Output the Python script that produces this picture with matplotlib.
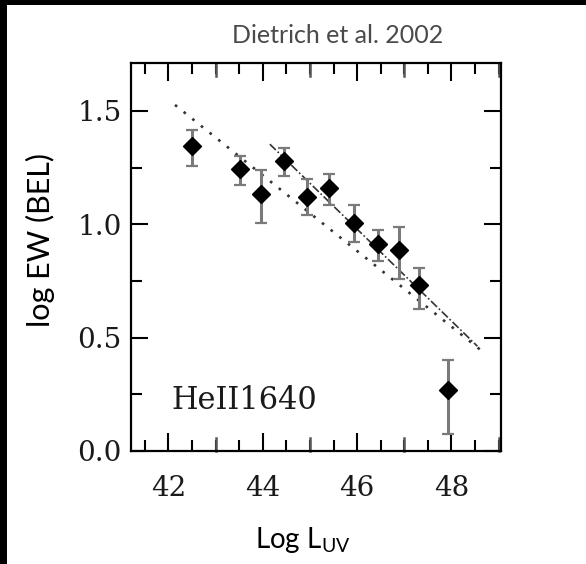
import numpy as np
import matplotlib
matplotlib.use("Agg")
import matplotlib.pyplot as plt
from matplotlib.patches import Rectangle
from matplotlib.ticker import MultipleLocator, FormatStrFormatter

plt.rcParams['mathtext.fontset'] = 'custom'
plt.rcParams['mathtext.rm'] = 'Lato'

# HeII 1640 equivalent width vs UV luminosity (binned)
log_luv = [42.50, 43.52, 43.97, 44.45, 44.94, 45.41, 45.94, 46.45, 46.89, 47.32, 47.92]
log_ew = [1.343, 1.244, 1.134, 1.277, 1.122, 1.159, 1.005, 0.914, 0.888, 0.731, 0.267]
ew_hi = [1.416, 1.303, 1.237, 1.338, 1.200, 1.221, 1.083, 0.976, 0.988, 0.808, 0.403]
ew_lo = [1.258, 1.175, 1.004, 1.211, 1.039, 1.083, 0.920, 0.839, 0.759, 0.628, 0.077]

# fitted relations
dotted_x = [42.14, 48.65]
dotted_y = [1.526, 0.440]
dashed_x = [44.15, 48.55]
dashed_y = [1.353, 0.462]

fig = plt.figure(figsize=(5.86, 5.64), dpi=100)
ax = fig.add_axes([0.2230, 0.2004, 0.6319, 0.6879])

yerr = [np.array(log_ew) - np.array(ew_lo), np.array(ew_hi) - np.array(log_ew)]
line, caps, bars = ax.errorbar(log_luv, log_ew, yerr=yerr, fmt='D', color='black',
                               ms=9, ecolor='#7a7a7a', elinewidth=2.2,
                               capsize=4.5, capthick=1.6, zorder=3)
for c in caps:
    c.set_color('black')

ax.plot(dotted_x, dotted_y, linestyle=(0, (1, 3.2)), color='#333333', lw=1.9, zorder=2)
ax.plot(dashed_x, dashed_y, linestyle=(0, (5, 1.5, 1, 1.5)), color='#333333', lw=1.2, zorder=2)

ax.text(42.06, 0.187, 'HeII1640', family='DejaVu Serif', fontsize=22,
        ha='left', va='baseline', color='#1a1a1a')

ax.set_xlim(41.2, 49.05)
ax.set_ylim(0, 1.711)
ax.set_xticks([42, 44, 46, 48])
ax.xaxis.set_minor_locator(MultipleLocator(0.5))
ax.yaxis.set_major_locator(MultipleLocator(0.5))
ax.yaxis.set_minor_locator(MultipleLocator(0.25))
ax.yaxis.set_major_formatter(FormatStrFormatter('%.1f'))
ax.tick_params(which='both', direction='in', top=True, right=True, width=1.5, color='black')
ax.tick_params(axis='y', which='major', length=12, pad=6.5)
ax.tick_params(axis='y', which='minor', length=8)
ax.tick_params(axis='x', which='major', length=13, pad=17)
ax.tick_params(axis='x', which='minor', length=8)
# odd integers on x get long ticks too (no label)
for xv in [43, 45, 47, 49]:
    ax.plot([xv, xv], [0, 0.058], color='#555555', lw=1.8, clip_on=False)
    ax.plot([xv, xv], [1.711 - 0.058, 1.711], color='#555555', lw=1.8, clip_on=False)
for lab in ax.get_xticklabels() + ax.get_yticklabels():
    lab.set_family('DejaVu Serif')
    lab.set_fontsize(20)
    lab.set_color('#1a1a1a')
for s in ax.spines.values():
    s.set_linewidth(1.6)
    s.set_color('black')

fig.text(232 / 586, 1 - 43 / 564, 'Dietrich et al. 2002', family='Lato',
         fontsize=18, color='#4a4a4a', ha='left', va='baseline')
fig.text(40 / 586, 1 - 240 / 564, 'log EW (BEL)', family='Lato', fontsize=22,
         rotation=90, ha='center', va='center', color='black')
fig.text(303 / 586, 1 - 548 / 564, r'Log L$_{\mathrm{UV}}$', family='Lato', fontsize=20,
         ha='center', va='baseline', color='black')

# screenshot border
fig.patches.append(Rectangle((0, 0), 7 / 586, 1, transform=fig.transFigure,
                             facecolor='black', edgecolor='none'))
fig.patches.append(Rectangle((0, 1 - 5 / 564), 1, 5 / 564, transform=fig.transFigure,
                             facecolor='black', edgecolor='none'))

fig.savefig('out.png', dpi=100)
